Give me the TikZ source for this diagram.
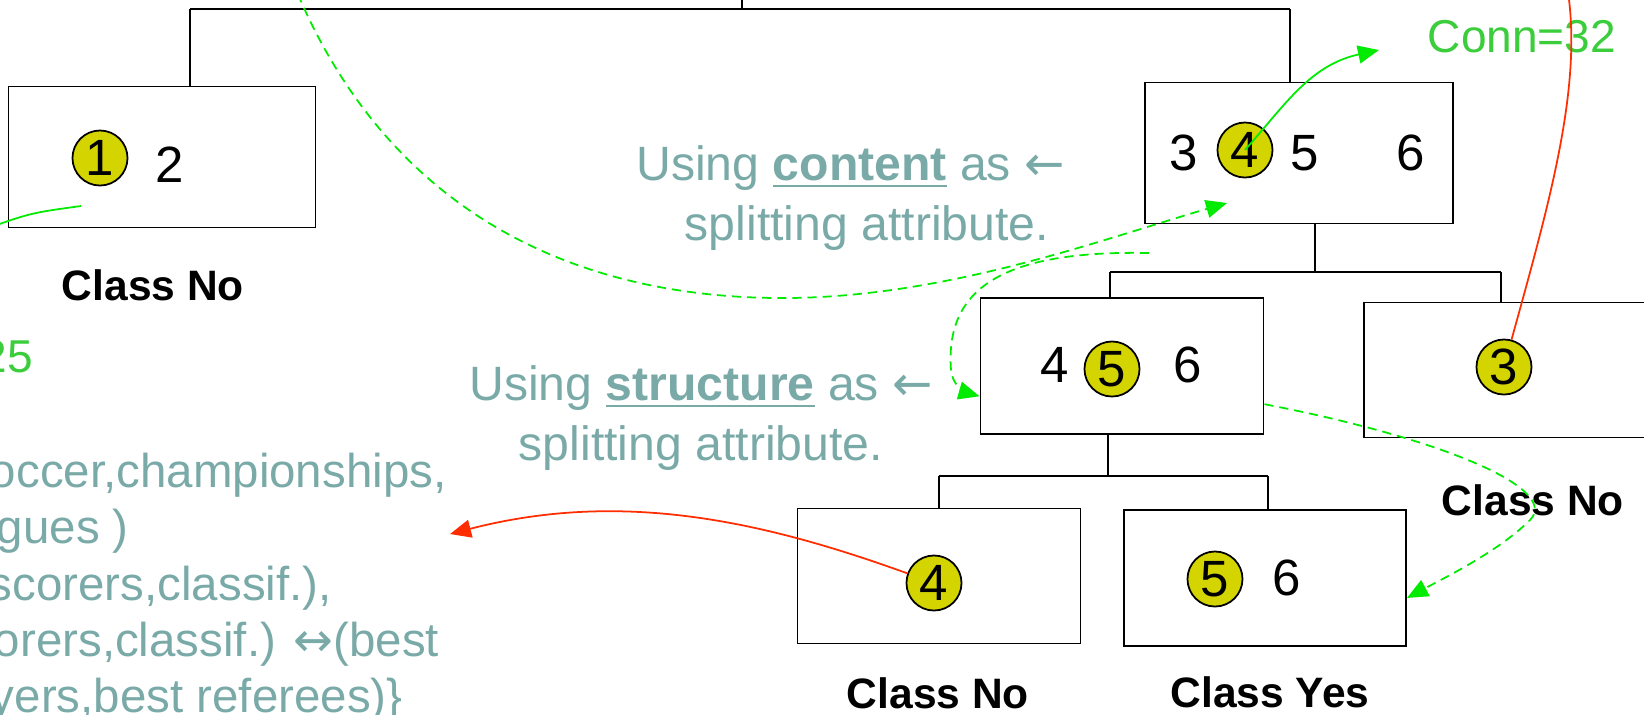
\documentclass[tikz,border=0pt]{standalone}
\usepackage{fontspec}
\setmainfont{Liberation Sans}
\newfontfamily\arrowfont{DejaVu Sans}
\usetikzlibrary{arrows.meta}

\definecolor{slate}{RGB}{122,170,168}
\definecolor{conngreen}{RGB}{60,205,60}
\definecolor{linegreen}{RGB}{0,235,0}
\definecolor{linered}{RGB}{255,45,0}
\definecolor{dotyellow}{RGB}{212,212,0}

\begin{document}
\begin{tikzpicture}[x=0.01cm, y=-0.01cm, line width=0.5pt,
    box/.style={rectangle, draw, minimum width=2.83cm, minimum height=1.36cm},
    dot/.style={circle, draw, fill=dotyellow, minimum size=0.55cm, inner sep=0pt, font=\fontsize{14.5}{17}\selectfont},
    num/.style={inner sep=0pt, font=\fontsize{14.5}{17}\selectfont},
    cls/.style={font=\fontsize{12.1}{14}\selectfont\bfseries},
    note/.style={text=slate, align=center, font=\fontsize{13.7}{17.1}\selectfont},
    list/.style={anchor=base west, inner sep=0pt, text=slate, font=\fontsize{13.5}{15.9}\selectfont},
    conn/.style={text=conngreen, font=\fontsize{13.1}{15}\selectfont},
    hit/.style={-{Triangle[length=0.21cm, width=0.18cm]}},
    gdash/.style={linegreen, dash pattern=on 2.6pt off 1.7pt, hit}]
    \useasboundingbox (0, 0) rectangle (1644, 714);

    \node at (162, 157) [box, minimum width=3.07cm, minimum height=1.41cm] (a) {};
    \node at (1299, 153) [box, minimum width=3.08cm, minimum height=1.41cm] (b) {};
    \node at (1122, 366) [box] (c) {};
    \node at (1507, 370) [box, minimum width=2.86cm, minimum height=1.35cm] (d) {};
    \node at (939, 576) [box, minimum height=1.35cm] (e) {};
    \node at (1265, 578) [box, minimum width=2.82cm] (f) {};

    \node at (100, 158) [dot] (a1) {1};
    \node at (170, 165) [num] (a2) {2};
    \node at (1184, 153) [num] (b3) {3};
    \node at (1245, 150) [dot] (b4) {4};
    \node at (1305, 153) [num] (b5) {5};
    \node at (1411, 153) [num] (b6) {6};
    \node at (1055, 365) [num] (c4) {4};
    \node at (1112, 369) [dot] (c5) {5};
    \node at (1188, 365) [num] (c6) {6};
    \node at (1504, 367) [dot] (d3) {3};
    \node at (934, 583) [dot] (e4) {4};
    \node at (1215, 579) [dot] (f5) {5};
    \node at (1287, 578) [num] (f6) {6};

    \node at (153, 285) [cls] (ca) {Class No};
    \node at (1533, 500) [cls] (cd) {Class No};
    \node at (938, 693) [cls] (ce) {Class No};
    \node at (1270, 692) [cls] (cf) {Class Yes};

    \node at (1522, 37) [conn] (c32) {Conn=32};
    \node at (34, 357) [conn, anchor=east, inner sep=0pt] (c25) {25};

    \node at (867, 198) [note] (usec) {Using \underline{\textbf{content}} as {\arrowfont ←}\hspace*{0.33cm}\\splitting attribute.};
    \node at (701, 418) [note] (uses) {Using \underline{\textbf{structure}} as {\arrowfont ←}\\splitting attribute.};

    \node at (-11, 487) [list] (l1) {occer,championships,};
    \node at (-4, 543) [list] (l2) {gues )};
    \node at (-12, 600) [list] (l3) {scorers,classif.),};
    \node at (-7, 656) [list] (l4) {orers,classif.) {\arrowfont ↔}(best};
    \node at (-10, 712) [list] (l5) {yers,best referees)\}};

    % tree lines
    \coordinate (top) at (742, -10);
    \coordinate (ja) at (190, 9);
    \coordinate (jb) at (1290, 9);
    \draw (ja) -- (jb);
    \draw (top) -- (top |- ja);
    \draw (ja) -- (ja |- a.north);
    \draw (jb) -- (jb |- b.north);
    \coordinate (jbc) at (1315, 272);
    \coordinate (jc) at (1110, 272);
    \coordinate (jd) at (1501, 272);
    \draw (jbc |- b.south) -- (jbc);
    \draw (jc) -- (jd);
    \draw (jc) -- (jc |- c.north);
    \draw (jd) -- (jd |- d.north);
    \coordinate (jce) at (1108, 476);
    \coordinate (je) at (939, 476);
    \coordinate (jf) at (1268, 476);
    \draw (jce |- c.south) -- (jce);
    \draw (je) -- (jf);
    \draw (je) -- (je |- e.north);
    \draw (jf) -- (jf |- f.north);

    % green links
    \coordinate (far) at (292, -20);
    \coordinate (bin) at (1227, 203);
    \coordinate (from) at (1149, 253);
    \coordinate (cn) at (1379, 50);
    \coordinate (wa) at (-20, 231);
    \coordinate (ea) at (81, 206);
    \draw [gdash] (far) .. controls (380, 200) and (560, 300) .. (790, 298)
        .. controls (950, 296) and (1100, 240) .. (bin);
    \draw [gdash] (from) .. controls (1000, 250) and (945, 290) .. (951, 370)
        .. controls (953, 388) and (968, 393) .. (c.192);
    \draw [gdash] (c.-15) .. controls (1450, 440) and (1560, 490) .. (1530, 520)
        .. controls (1500, 550) and (1450, 575) .. (f.-8);
    \draw [linegreen, hit] (b4.center) .. controls (1285, 105) and (1310, 65) .. (cn);
    \draw [linegreen] (wa) .. controls (30, 213) .. (ea);

    % red links
    \coordinate (up) at (1566, -20);
    \coordinate (lft) at (450, 534);
    \draw [linered] (d3) .. controls (1550, 200) and (1585, 80) .. (up);
    \draw [linered, hit] (e4) .. controls (760, 520) and (620, 490) .. (lft);
\end{tikzpicture}
\end{document}
